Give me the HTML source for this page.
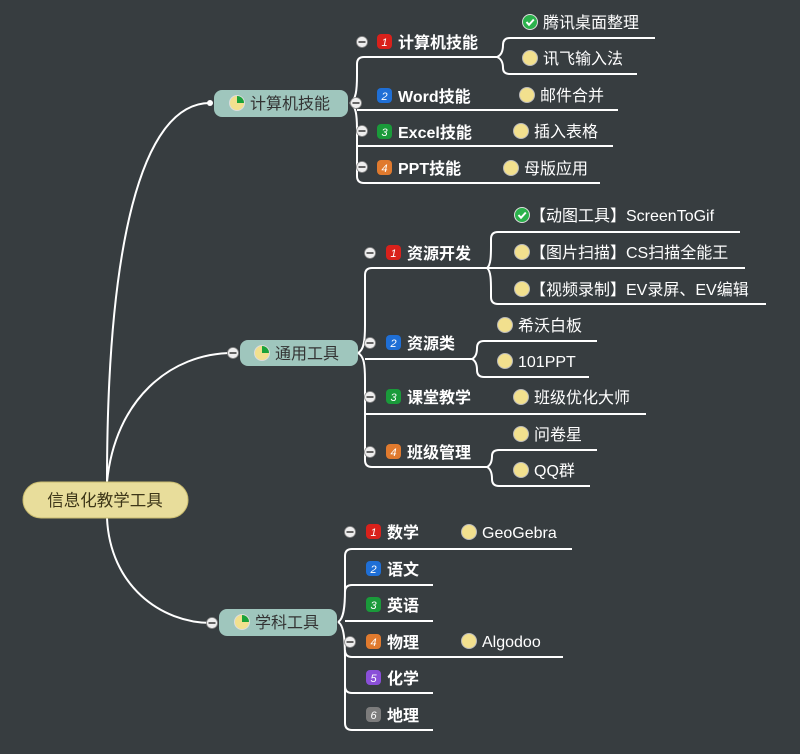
<!DOCTYPE html>
<html><head><meta charset="utf-8"><style>
html,body{margin:0;padding:0;background:#373d40;}
svg{display:block;}
text{font-family:"Liberation Sans","Noto Sans CJK SC",sans-serif;}
.c{font-size:16px;font-weight:bold;fill:#fff;}
.l{font-size:16px;fill:#fff;}
.b{font-size:16px;fill:#333;}
.ln{stroke:#fff;stroke-width:2;fill:none;}
</style></head><body>
<svg width="800" height="754" viewBox="0 0 800 754" xmlns="http://www.w3.org/2000/svg">
<defs>
<g id="cl"><circle r="5.5" fill="#eee" stroke="#888" stroke-width="0.8"/><rect x="-3.5" y="-0.9" width="7" height="1.8" fill="#555"/></g>
<g id="yc"><circle r="7.5" fill="#f2e08e" stroke="#bbb" stroke-width="1"/></g>
<g id="ck"><circle r="7.5" fill="#2bb24c" stroke="#ddd" stroke-width="1"/><path d="M-3.5,0 L-1,2.8 L3.8,-2.5" stroke="#fff" stroke-width="2" fill="none"/></g>
<g id="pie"><circle r="7.5" fill="#f2e08e" stroke="#ddd" stroke-width="1"/><path d="M0,0 L0,-7 A7,7 0 0 1 7,0 Z" fill="#1aa23a"/></g>
</defs>
<rect width="800" height="754" fill="#373d40"/>

<path class="ln" d="M107,482 C107,250 140,103 210,103"/>
<path class="ln" d="M107,482 C115,400 170,353 233,353"/>
<path class="ln" d="M107,518 C110,585 160,623 212,623"/>
<circle cx="210" cy="103" r="3" fill="#fff"/>
<use href="#cl" x="233" y="353"/>
<use href="#cl" x="212" y="623"/>

<rect x="23" y="482" width="165" height="36" rx="18" fill="#e8dd9b" stroke="#c9bc6f" stroke-width="1"/>
<text x="105" y="506" text-anchor="middle" style="font-size:16.5px;fill:#3d3618">信息化教学工具</text>

<rect x="214" y="90" width="134" height="27" rx="8" fill="#9fc6bd"/>
<use href="#pie" x="237" y="103"/>
<text x="250" y="109" class="b">计算机技能</text>
<rect x="240" y="340" width="118" height="26" rx="8" fill="#9fc6bd"/>
<use href="#pie" x="262" y="353"/>
<text x="275" y="359" class="b">通用工具</text>
<rect x="219" y="609" width="118" height="27" rx="8" fill="#9fc6bd"/>
<use href="#pie" x="242" y="622"/>
<text x="255" y="628" class="b">学科工具</text>

<path class="ln" d="M350,103 C356,100 357,90 357,75 L357,64 Q357,57 364,57 L497,57"/>
<path class="ln" d="M350,103 C356,106 357,115 357,130 L357,176 Q357,183 364,183 L600,183"/>
<path class="ln" d="M357,110 L618,110"/>
<path class="ln" d="M357,146 L613,146"/>
<path class="ln" d="M497,57 C502,55 503,50 503,45 Q503,38 510,38 L655,38"/>
<path class="ln" d="M497,57 C502,59 503,64 503,68 Q503,74 510,74 L637,74"/>
<use href="#cl" x="362" y="42"/><use href="#cl" x="356" y="103"/><use href="#cl" x="362" y="131"/><use href="#cl" x="362" y="167"/>
<rect x="377" y="34" width="15" height="15" rx="4" fill="#d9211b"/><text x="384.5" y="46" text-anchor="middle" style="font-size:11px;font-style:italic;fill:#fff">1</text>
<text x="398" y="48" class="c">计算机技能</text>
<rect x="377" y="88" width="15" height="15" rx="4" fill="#1f6fd6"/><text x="384.5" y="100" text-anchor="middle" style="font-size:11px;font-style:italic;fill:#fff">2</text>
<text x="398" y="102" class="c">Word技能</text>
<rect x="377" y="124" width="15" height="15" rx="4" fill="#1a9a3a"/><text x="384.5" y="136" text-anchor="middle" style="font-size:11px;font-style:italic;fill:#fff">3</text>
<text x="398" y="138" class="c">Excel技能</text>
<rect x="377" y="160" width="15" height="15" rx="4" fill="#e07a2e"/><text x="384.5" y="172" text-anchor="middle" style="font-size:11px;font-style:italic;fill:#fff">4</text>
<text x="398" y="174" class="c">PPT技能</text>
<use href="#ck" x="530" y="22"/><text x="543" y="28" class="l">腾讯桌面整理</text>
<use href="#yc" x="530" y="58"/><text x="543" y="64" class="l">讯飞输入法</text>
<use href="#yc" x="527" y="95"/><text x="540" y="101" class="l">邮件合并</text>
<use href="#yc" x="521" y="131"/><text x="534" y="137" class="l">插入表格</text>
<use href="#yc" x="511" y="168"/><text x="524" y="174" class="l">母版应用</text>

<path class="ln" d="M358,353 C364,350 365,340 365,325 L365,275 Q365,268 372,268 L487,268"/>
<path class="ln" d="M358,353 C364,356 365,365 365,380 L365,460 Q365,467 372,467 L487,467"/>
<path class="ln" d="M365,359 L472,359"/>
<path class="ln" d="M365,414 L646,414"/>
<path class="ln" d="M487,268 C491,265 491,255 491,245 L491,239 Q491,232 498,232 L740,232"/>
<path class="ln" d="M487,268 L745,268"/>
<path class="ln" d="M487,268 C491,271 491,281 491,291 L491,297 Q491,304 498,304 L766,304"/>
<path class="ln" d="M472,359 C476,357 477,352 477,348 Q477,341 484,341 L597,341"/>
<path class="ln" d="M472,359 C476,361 477,366 477,370 Q477,377 484,377 L589,377"/>
<path class="ln" d="M487,467 C491,465 492,460 492,456 Q492,450 499,450 L597,450"/>
<path class="ln" d="M487,467 C491,469 492,474 492,479 Q492,486 499,486 L590,486"/>
<use href="#cl" x="370" y="253"/><use href="#cl" x="370" y="343"/><use href="#cl" x="370" y="397"/><use href="#cl" x="370" y="452"/>
<rect x="386" y="245" width="15" height="15" rx="4" fill="#d9211b"/><text x="393.5" y="257" text-anchor="middle" style="font-size:11px;font-style:italic;fill:#fff">1</text>
<text x="407" y="259" class="c">资源开发</text>
<rect x="386" y="335" width="15" height="15" rx="4" fill="#1f6fd6"/><text x="393.5" y="347" text-anchor="middle" style="font-size:11px;font-style:italic;fill:#fff">2</text>
<text x="407" y="349" class="c">资源类</text>
<rect x="386" y="389" width="15" height="15" rx="4" fill="#1a9a3a"/><text x="393.5" y="401" text-anchor="middle" style="font-size:11px;font-style:italic;fill:#fff">3</text>
<text x="407" y="403" class="c">课堂教学</text>
<rect x="386" y="444" width="15" height="15" rx="4" fill="#e07a2e"/><text x="393.5" y="456" text-anchor="middle" style="font-size:11px;font-style:italic;fill:#fff">4</text>
<text x="407" y="458" class="c">班级管理</text>
<use href="#ck" x="522" y="215"/><text x="530" y="221" class="l">【动图工具】ScreenToGif</text>
<use href="#yc" x="522" y="252"/><text x="530" y="258" class="l">【图片扫描】CS扫描全能王</text>
<use href="#yc" x="522" y="289"/><text x="530" y="295" class="l">【视频录制】EV录屏、EV编辑</text>
<use href="#yc" x="505" y="325"/><text x="518" y="331" class="l">希沃白板</text>
<use href="#yc" x="505" y="361"/><text x="518" y="367" class="l">101PPT</text>
<use href="#yc" x="521" y="397"/><text x="534" y="403" class="l">班级优化大师</text>
<use href="#yc" x="521" y="434"/><text x="534" y="440" class="l">问卷星</text>
<use href="#yc" x="521" y="470"/><text x="534" y="476" class="l">QQ群</text>

<path class="ln" d="M338,622 C344,619 345,605 345,590 L345,556 Q345,549 352,549 L572,549"/>
<path class="ln" d="M338,622 C344,625 345,640 345,660 L345,723 Q345,730 352,730 L433,730"/>
<path class="ln" d="M345,592 Q345,585 352,585 L433,585"/>
<path class="ln" d="M345,621 L433,621"/>
<path class="ln" d="M345,650 Q345,657 352,657 L563,657"/>
<path class="ln" d="M345,686 Q345,693 352,693 L433,693"/>
<use href="#cl" x="350" y="532"/><use href="#cl" x="350" y="642"/>
<rect x="366" y="524" width="15" height="15" rx="4" fill="#d9211b"/><text x="373.5" y="536" text-anchor="middle" style="font-size:11px;font-style:italic;fill:#fff">1</text>
<text x="387" y="538" class="c">数学</text>
<rect x="366" y="561" width="15" height="15" rx="4" fill="#1f6fd6"/><text x="373.5" y="573" text-anchor="middle" style="font-size:11px;font-style:italic;fill:#fff">2</text>
<text x="387" y="575" class="c">语文</text>
<rect x="366" y="597" width="15" height="15" rx="4" fill="#1a9a3a"/><text x="373.5" y="609" text-anchor="middle" style="font-size:11px;font-style:italic;fill:#fff">3</text>
<text x="387" y="611" class="c">英语</text>
<rect x="366" y="634" width="15" height="15" rx="4" fill="#e07a2e"/><text x="373.5" y="646" text-anchor="middle" style="font-size:11px;font-style:italic;fill:#fff">4</text>
<text x="387" y="648" class="c">物理</text>
<rect x="366" y="670" width="15" height="15" rx="4" fill="#8a4fd8"/><text x="373.5" y="682" text-anchor="middle" style="font-size:11px;font-style:italic;fill:#fff">5</text>
<text x="387" y="684" class="c">化学</text>
<rect x="366" y="707" width="15" height="15" rx="4" fill="#7c7c7c"/><text x="373.5" y="719" text-anchor="middle" style="font-size:11px;font-style:italic;fill:#fff">6</text>
<text x="387" y="721" class="c">地理</text>
<use href="#yc" x="469" y="532"/><text x="482" y="538" class="l">GeoGebra</text>
<use href="#yc" x="469" y="641"/><text x="482" y="647" class="l">Algodoo</text>
</svg>
</body></html>
